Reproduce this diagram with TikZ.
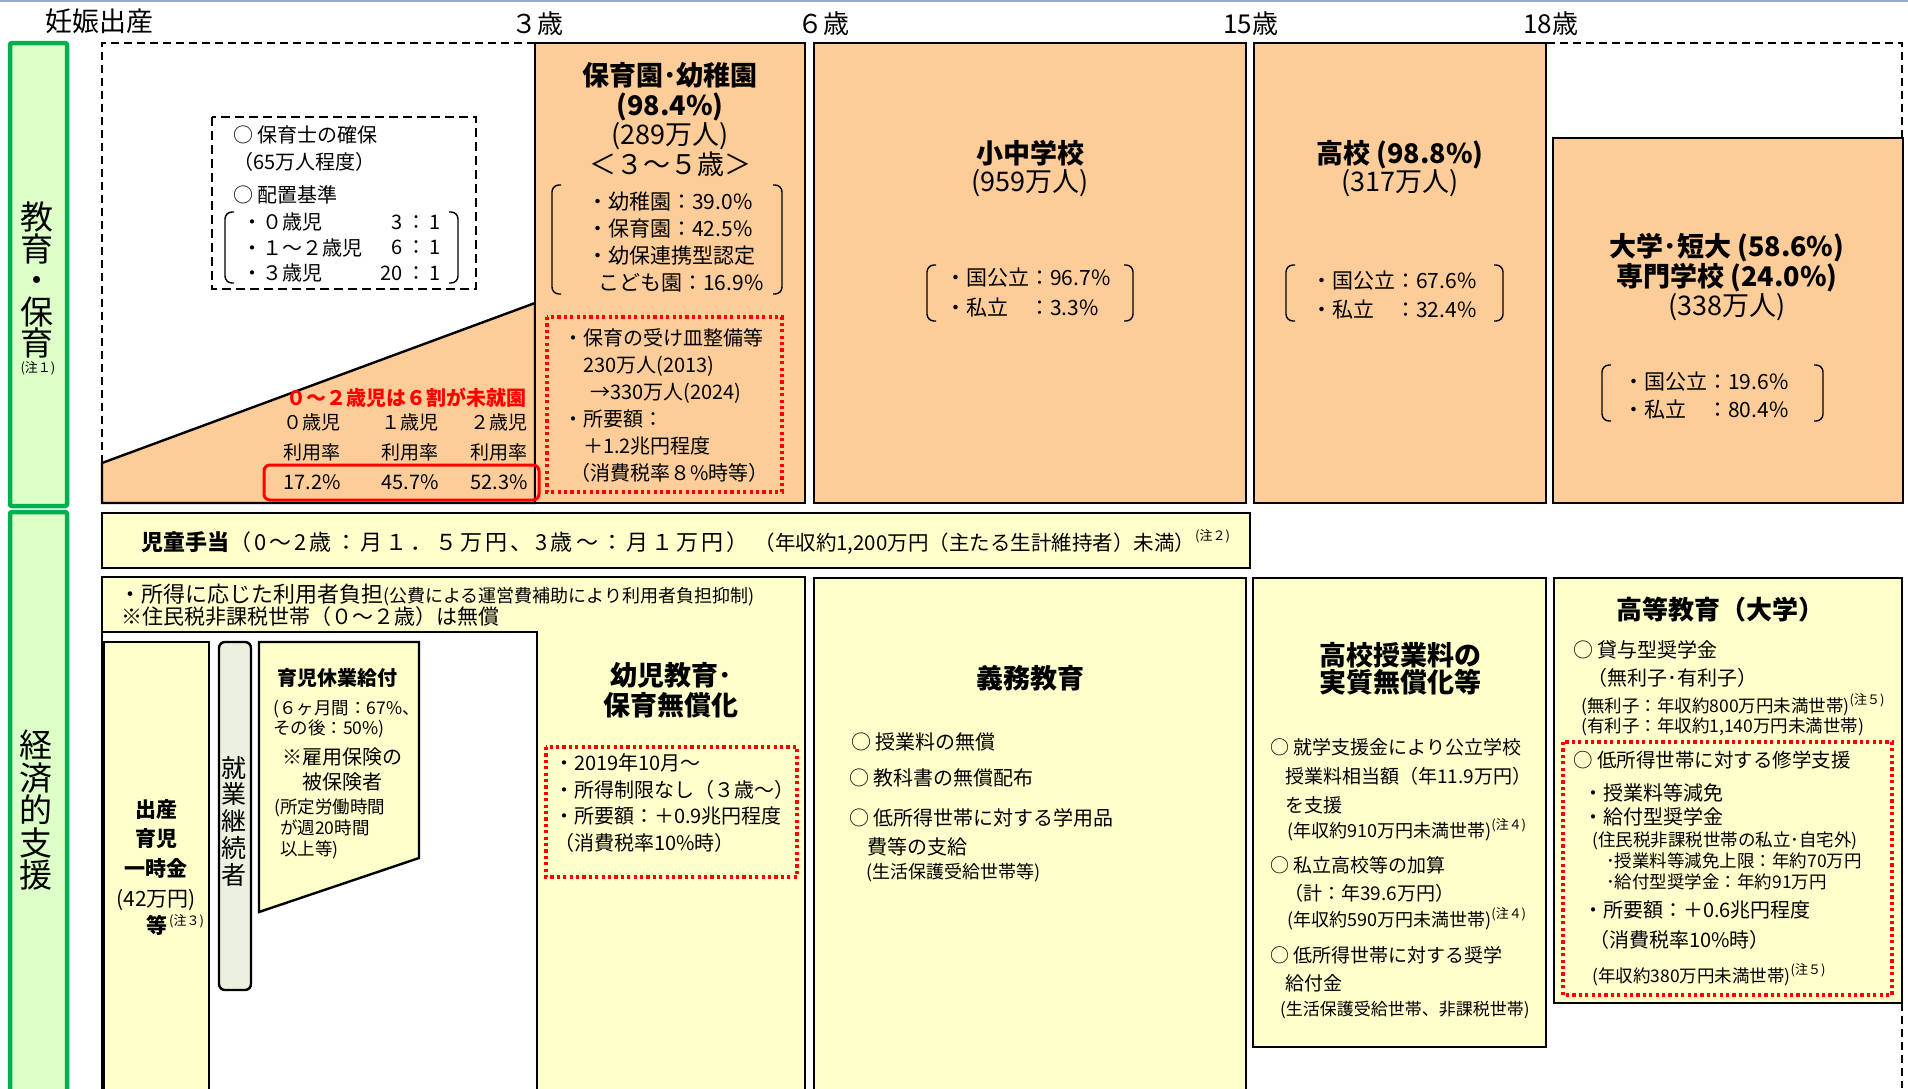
\documentclass[tikz,border=0pt]{standalone}
\usepackage{fontspec}
\setmainfont{Noto Sans CJK JP}
\newfontfamily\widefont{Noto Sans CJK JP}[LetterSpace=14]
\definecolor{peach}{RGB}{252,204,153}
\definecolor{lemon}{RGB}{255,255,204}
\definecolor{leaf}{RGB}{0,176,80}
\definecolor{leaffill}{RGB}{221,255,200}
\definecolor{olivegray}{RGB}{235,241,222}
\definecolor{topline}{RGB}{150,170,200}
\newcommand{\fsz}[2]{\fontsize{#1pt}{#2pt}\selectfont}
\newcommand{\chu}[1]{\raisebox{0.45em}{\fsz{13}{13}(注#1)}}
\newcommand{\parpair}[4]{%
  \draw[brk] (#1+9,#3) -- (#1,#3) -- (#1,#4) -- (#1+9,#4);
  \draw[brk] (#2-9,#3) -- (#2,#3) -- (#2,#4) -- (#2-9,#4);}

\begin{document}
\begin{tikzpicture}[x=1pt,y=-1pt,
  blk/.style={draw=black,line width=2.4pt},
  obox/.style={blk,fill=peach},
  ybox/.style={blk,fill=lemon},
  dashbox/.style={draw=black,line width=1.8pt,dash pattern=on 8pt off 5pt},
  reddot/.style={draw=red,line width=3.2pt,dash pattern=on 3.2pt off 3.2pt},
  greenbox/.style={draw=leaf,fill=leaffill,line width=4.5pt,rounded corners=2pt},
  brk/.style={line width=1.4pt,rounded corners=7pt},
  txt/.style={anchor=west,inner sep=0pt,align=left},
  ctr/.style={inner sep=0pt,align=center}]
  \useasboundingbox (0,0) rectangle (1908,1088);
  \draw[draw=topline,line width=2pt] (0,1) -- (1908,1);

  % frames
  \draw[greenbox] (10,43) rectangle (67,506);
  \draw[greenbox] (10,512) rectangle (67,1110);
  \draw[dashbox] (535,43) -- (102,43) -- (102,463);
  \draw[dashbox] (1547,43) -- (1902,43) -- (1902,138);
  \draw[dashbox] (1902,1003) -- (1902,1088);
  \draw[obox] (102,463) -- (535,303) -- (535,503) -- (102,503) -- cycle;
  \draw[obox] (535,43) rectangle (805,503);
  \draw[obox] (814,43) rectangle (1246,503);
  \draw[obox] (1254,43) rectangle (1546,503);
  \draw[obox] (1553,138) rectangle (1903,503);
  \draw[draw=black,line width=2.2pt,dash pattern=on 9pt off 5pt] (212,117) rectangle (476,289);
  \draw[draw=red,line width=3pt,rounded corners=6pt] (264,465) rectangle (539,500);
  \draw[reddot] (547,317) rectangle (782,492);

  \draw[ybox] (102,513) rectangle (1250,568);
  \draw[ybox] (102,577) rectangle (805,1110);
  \draw[blk,fill=white] (102,632) rectangle (537,1110);
  \draw[ybox] (104,642) rectangle (209,1110);
  \draw[blk,fill=olivegray,rounded corners=6pt] (219,642) rectangle (251,990);
  \draw[ybox] (259,642) -- (419,642) -- (419,858) -- (259,912) -- cycle;
  \draw[ybox] (814,578) rectangle (1246,1110);
  \draw[ybox] (1253,578) rectangle (1546,1047);
  \draw[ybox] (1554,578) rectangle (1902,1003);
  \draw[reddot] (546,747) rectangle (797,877);
  \draw[reddot] (1563,742) rectangle (1892,995);

  \parpair{225}{458}{212}{283}
  \parpair{552}{782}{185}{294}
  \parpair{927}{1133}{265}{321}
  \parpair{1286}{1503}{265}{321}
  \parpair{1602}{1823}{365}{421}

  % ages
  \node[txt,font=\fsz{27}{27}] (birth) at (45,21) {妊娠出産};
  \node[txt,font=\fsz{26}{26}] (age3) at (511,24) {３歳};
  \node[txt,font=\fsz{26}{26}] (age6) at (797,24) {６歳};
  \node[txt,font=\fsz{26}{26}] (age15) at (1223,24) {15歳};
  \node[txt,font=\fsz{26}{26}] (age18) at (1523,24) {18歳};

  \node[ctr,font=\fsz{33}{31.5}] (eduhead) at (37,280) {教\\育\\・\\保\\育};
  \node[ctr,font=\fsz{13}{13}] (note1) at (38,368) {(注１)};
  \node[ctr,font=\fsz{33}{32.5}] (ecohead) at (36,810) {経\\済\\的\\支\\援};

  % under three
  \node[txt,font=\fsz{20}{27}] (staff) at (233,148.5) {○ 保育士の確保\\（65万人程度）};
  \node[txt,font=\fsz{20}{20}] (ratio) at (233,195) {○ 配置基準};
  \node[txt,font=\fsz{20}{25.5}] (ratiorows) at (242,247.5) {・０歳児\\・１～２歳児\\・３歳児};
  \node[anchor=east,inner sep=0pt,align=right,font=\fsz{20}{25.5}] (ratiovals) at (441,247.5) {3\,：\,1\\6\,：\,1\\20\,：\,1};
  \node[ctr,font=\fsz{20}{20}\bfseries,text=red] (mishu) at (406,398) {０～２歳児は６割が未就園};
  \node[ctr,font=\fsz{19}{30}] (use0) at (312,437) {０歳児\\利用率};
  \node[ctr,font=\fsz{19}{30}] (use1) at (410,437) {１歳児\\利用率};
  \node[ctr,font=\fsz{19}{30}] (use2) at (499,437) {２歳児\\利用率};
  \node[ctr,font=\fsz{20}{20}] (rate0) at (312,482) {17.2\%};
  \node[ctr,font=\fsz{20}{20}] (rate1) at (410,482) {45.7\%};
  \node[ctr,font=\fsz{20}{20}] (rate2) at (499,482) {52.3\%};

  % schools
  \node[ctr,font=\fsz{27}{30}\bfseries] (kinder) at (670,92) {保育園･幼稚園\\(98.4\%)};
  \node[ctr,font=\fsz{27}{30}] (kindernum) at (670,150) {(289万人)\\＜３～５歳＞};
  \node[txt,font=\fsz{21}{26.7}] (kindershare) at (587,242) {・幼稚園：39.0\%\\・保育園：42.5\%\\・幼保連携型認定\\\hspace*{11pt}こども園：16.9\%};
  \node[txt,font=\fsz{20}{27}] (capacity) at (563,405.5) {・保育の受け皿整備等\\\hspace*{20pt}230万人(2013)\\\hspace*{27pt}→330万人(2024)\\・所要額：\\\hspace*{20pt}＋1.2兆円程度\\\hspace*{7pt}（消費税率８\%時等）};

  \node[ctr,font=\fsz{27}{28}] (elem) at (1030,169) {\textbf{小中学校}\\(959万人)};
  \node[txt,font=\fsz{21}{30}] (elemshare) at (945,293) {・国公立：96.7\%\\・私立　：3.3\%};
  \node[ctr,font=\fsz{27}{28}] (high) at (1400,169) {\textbf{高校 (98.8\%)}\\(317万人)};
  \node[txt,font=\fsz{21}{29}] (highshare) at (1311,295.5) {・国公立：67.6\%\\・私立　：32.4\%};
  \node[ctr,font=\fsz{27}{29.5}] (univ) at (1727,277.5) {\textbf{大学･短大 (58.6\%)}\\\textbf{専門学校 (24.0\%)}\\(338万人)};
  \node[txt,font=\fsz{21}{28}] (univshare) at (1623,396) {・国公立：19.6\%\\・私立　：80.4\%};

  % support
  \node[txt,font=\fsz{22}{22}] (allowance) at (141,542) {\textbf{児童手当}{\widefont（0～2歳：月１．５万円、3歳～：月１万円）}\hspace{6pt}{\fsz{20.5}{20.5}（年収約1,200万円（主たる生計維持者）未満）}\chu{２}};
  \node[txt,font=\fsz{22}{22}] (fee) at (119,595) {・所得に応じた利用者負担{\fsz{18}{18}(公費による運営費補助により利用者負担抑制)}};
  \node[txt,font=\fsz{21}{21}] (feefree) at (121,617) {※住民税非課税世帯（０～２歳）は無償};

  \node[ctr,font=\fsz{21}{29.5}\bfseries] (lump) at (156,838.5) {出産\\育児\\一時金};
  \node[ctr,font=\fsz{21}{21}] (lumpsum) at (156,900) {(42万円)};
  \node[ctr,font=\fsz{21}{21}\bfseries] (lumpetc) at (157,925) {等};
  \node[txt,font=\fsz{13}{13}] (note3) at (169,921) {(注３)};
  \node[ctr,font=\fsz{25}{26.75}] (worker) at (234,821) {就\\業\\継\\続\\者};

  \node[ctr,font=\fsz{20}{20}\bfseries] (leave) at (337,678) {育児休業給付};
  \node[txt,font=\fsz{17.5}{20}] (leaverate) at (273,719) {(６ヶ月間：67\%、\\その後：50\%)};
  \node[txt,font=\fsz{20}{25}] (insured) at (282,769.5) {※雇用保険の\\\hspace*{20pt}被保険者};
  \node[txt,font=\fsz{17.5}{21}] (hours) at (274,829) {(所定労働時間\\\hspace*{6pt}が週20時間\\\hspace*{6pt}以上等)};

  \node[ctr,font=\fsz{27}{30}\bfseries] (free) at (671,690) {幼児教育･\\保育無償化};
  \node[txt,font=\fsz{20}{26.7}] (freeinfo) at (554,803) {・2019年10月～\\・所得制限なし（３歳～）\\・所要額：＋0.9兆円程度\\（消費税率10\%時）};

  \node[ctr,font=\fsz{27}{27}\bfseries] (compulsory) at (1030,678) {義務教育};
  \node[txt,font=\fsz{20}{20}] (comp1) at (851,742) {○ 授業料の無償};
  \node[txt,font=\fsz{20}{20}] (comp2) at (849,778) {○ 教科書の無償配布};
  \node[txt,font=\fsz{20}{29}] (comp3) at (849,832.5) {○ 低所得世帯に対する学用品\\\hspace*{18pt}費等の支給};
  \node[txt,font=\fsz{18}{18}] (comp4) at (866,873) {(生活保護受給世帯等)};

  \node[ctr,font=\fsz{27}{27}\bfseries] (hsfree) at (1400,668.5) {高校授業料の\\実質無償化等};
  \node[txt,font=\fsz{19}{29}] (hs1) at (1270,776) {○ 就学支援金により公立学校\\\hspace*{15pt}授業料相当額（年11.9万円）\\\hspace*{15pt}を支援};
  \node[txt,font=\fsz{18}{18}] (hs1n) at (1287,830) {(年収約910万円未満世帯)\chu{４}};
  \node[txt,font=\fsz{19}{28}] (hs2) at (1270,879) {○ 私立高校等の加算\\\hspace*{14pt}（計：年39.6万円）};
  \node[txt,font=\fsz{18}{18}] (hs2n) at (1287,919) {(年収約590万円未満世帯)\chu{４}};
  \node[txt,font=\fsz{19}{28}] (hs3) at (1270,969) {○ 低所得世帯に対する奨学\\\hspace*{15pt}給付金};
  \node[txt,font=\fsz{17}{17}] (hs3n) at (1280,1010) {(生活保護受給世帯、非課税世帯)};

  \node[ctr,font=\fsz{26}{26}\bfseries] (higher) at (1720,610) {高等教育（大学）};
  \node[txt,font=\fsz{20}{28}] (loan) at (1573,664) {○ 貸与型奨学金\\\hspace*{14pt}（無利子･有利子）};
  \node[txt,font=\fsz{17.5}{20}] (loann) at (1581,715) {(無利子：年収約800万円未満世帯)\chu{５}\\(有利子：年収約1,140万円未満世帯)};
  \node[txt,font=\fsz{19.5}{19.5}] (lowinc) at (1573,760) {○ 低所得世帯に対する修学支援};
  \node[txt,font=\fsz{20}{24}] (grant) at (1583,805) {・授業料等減免\\・給付型奨学金};
  \node[txt,font=\fsz{17.5}{21}] (grantn) at (1592,861) {(住民税非課税世帯の私立･自宅外)\\\hspace*{14pt}･授業料等減免上限：年約70万円\\\hspace*{14pt}･給付型奨学金：年約91万円};
  \node[txt,font=\fsz{20}{30}] (budget) at (1583,925) {・所要額：＋0.6兆円程度\\\hspace*{6pt}（消費税率10\%時）};
  \node[txt,font=\fsz{17.5}{17.5}] (budgetn) at (1592,975) {(年収約380万円未満世帯)\chu{５}};
\end{tikzpicture}
\end{document}
